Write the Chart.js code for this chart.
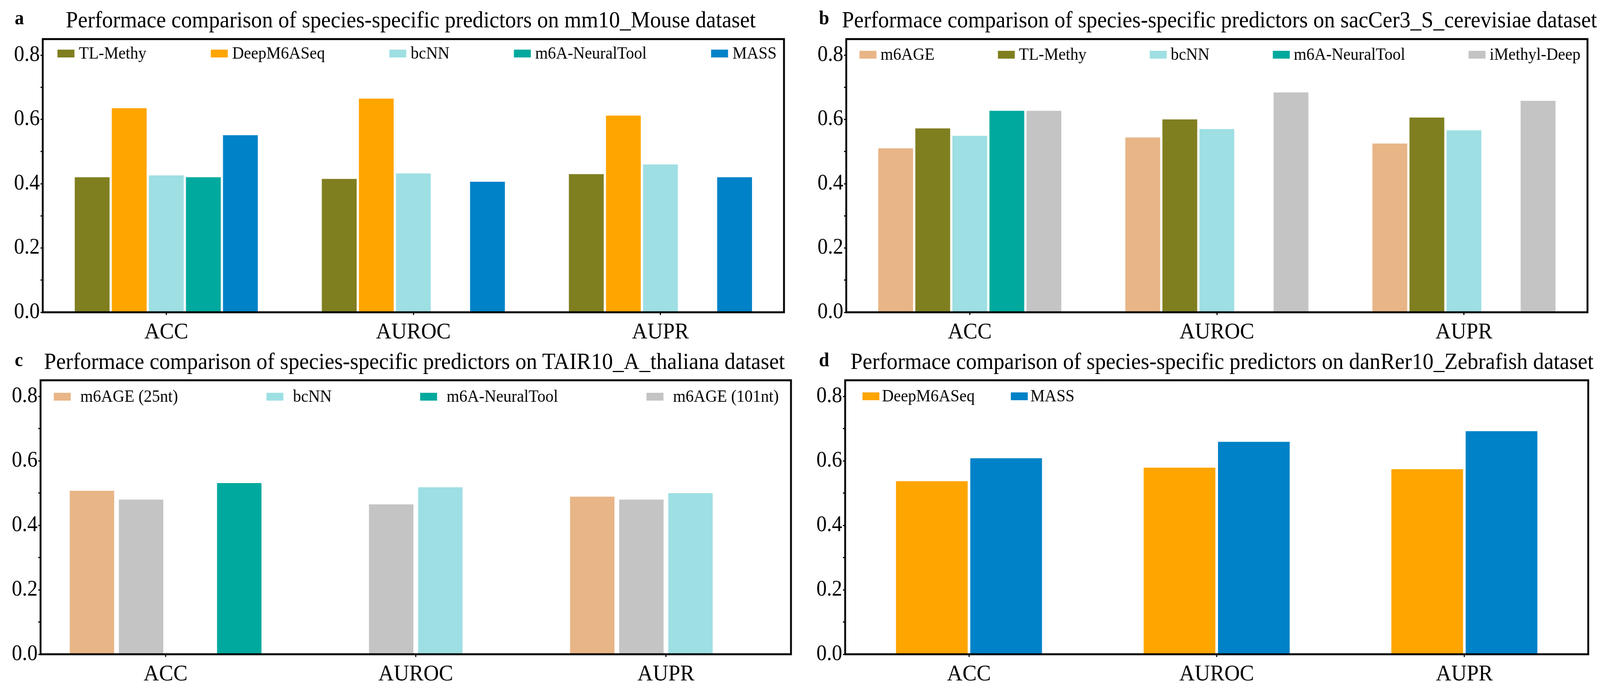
<!DOCTYPE html>
<html>
<head>
<meta charset="utf-8">
<script src="https://cdn.jsdelivr.net/npm/chart.js@4.4.0/dist/chart.umd.min.js"></script>
<style>
  html, body { margin: 0; padding: 0; background: #fff; overflow: hidden; }
  #stage { position: absolute; left: 0; top: 0; width: 4343px; height: 1768px; transform-origin: 0 0; font-family: "Liberation Serif", "Times New Roman", serif; background: #fff; }
  .panel { position: absolute; }
  .title { position: absolute; font-size: 59px; line-height: 59px; white-space: nowrap; transform: translateX(-50%); }
  .letter { position: absolute; font-size: 50px; line-height: 50px; font-weight: bold; }
</style>
</head>
<body>
<div id="stage">
<div class="letter" style="left:40px; top:20px;">a</div>
<div class="title" style="left:1115px; top:21px;">Performace comparison of species-specific predictors on mm10_Mouse dataset</div>
<div class="letter" style="left:2223px; top:20px;">b</div>
<div class="title" style="left:3310px; top:21px;">Performace comparison of species-specific predictors on sacCer3_S_cerevisiae dataset</div>
<div class="letter" style="left:40px; top:895px;">c</div>
<div class="title" style="left:1125px; top:895px;">Performace comparison of species-specific predictors on TAIR10_A_thaliana dataset</div>
<div class="letter" style="left:2223px; top:895px;">d</div>
<div class="title" style="left:3317px; top:895px;">Performace comparison of species-specific predictors on danRer10_Zebrafish dataset</div>

<div class="panel" id="pa"><canvas id="ca"></canvas></div>
<div class="panel" id="pb"><canvas id="cb"></canvas></div>
<div class="panel" id="pc"><canvas id="cc"></canvas></div>
<div class="panel" id="pd"><canvas id="cd"></canvas></div>
</div>

<script>
// the figure is laid out at 4343x1768 and squeezed into the real window
const stage = document.getElementById("stage");
stage.style.transform =
  "scale(" + window.innerWidth / 4343 + "," + window.innerHeight / 1768 + ")";

// data
const categories = ["ACC", "AUROC", "AUPR"];

// a: mm10_Mouse
const mouseTLMethy = [0.42, 0.415, 0.43];
const mouseDeepM6ASeq = [0.635, 0.665, 0.612];
const mouseBcNN = [0.426, 0.432, 0.46];
const mouseNeuralTool = [0.42, null, null];
const mouseMASS = [0.551, 0.406, 0.42];

// b: sacCer3_S_cerevisiae
const yeastM6AGE = [0.51, 0.544, 0.525];
const yeastTLMethy = [0.572, 0.6, 0.606];
const yeastBcNN = [0.549, 0.57, 0.566];
const yeastNeuralTool = [0.627, null, null];
const yeastIMethylDeep = [0.627, 0.684, 0.658];

// c: TAIR10_A_thaliana
const plantM6AGE25 = [0.507, null, 0.489];
const plantM6AGE101 = [0.48, 0.465, 0.48];
const plantBcNN = [null, 0.518, 0.5];
const plantNeuralTool = [0.531, null, null];

// d: danRer10_Zebrafish
const fishDeepM6ASeq = [0.537, 0.579, 0.574];
const fishMASS = [0.608, 0.659, 0.692];

const colors = {
  tlmethy: "#7f7f20",
  deepm6aseq: "#ffa500",
  bcnn: "#9edfe3",
  neuraltool: "#00a99d",
  mass: "#0082c8",
  m6age: "#e8b586",
  gray: "#c4c4c4",
};

const FONT = '"Liberation Serif", "Times New Roman", serif';

// black box round the plot area
const framePlugin = {
  id: "frame",
  afterDraw(chart) {
    const { ctx, chartArea: a } = chart;
    ctx.save();
    ctx.strokeStyle = "#000";
    ctx.lineWidth = 5;
    ctx.strokeRect(a.left, a.top, a.right - a.left, a.bottom - a.top);
    ctx.restore();
  },
};

// legend inside the plot area, one row
const insideLegend = {
  id: "insideLegend",
  afterDraw(chart, args, opts) {
    const { ctx, chartArea: a } = chart;
    ctx.save();
    ctx.font = opts.fontSize + "px " + FONT;
    const items = opts.order.map((i) => chart.data.datasets[i]);
    const widths = items.map(
      (ds) => opts.boxW + opts.textGap + ctx.measureText(ds.label).width
    );
    const total = widths.reduce((s, w) => s + w, 0);
    const x0 = a.left + opts.left;
    let gap = opts.gap;
    if (gap == null) gap = (a.right - opts.right - x0 - total) / (items.length - 1);
    const y = a.top + opts.top;
    let x = x0;
    items.forEach((ds, k) => {
      ctx.fillStyle = ds.backgroundColor;
      ctx.fillRect(x, y - opts.boxH / 2, opts.boxW, opts.boxH);
      ctx.fillStyle = "#000";
      ctx.textBaseline = "alphabetic";
      ctx.fillText(ds.label, x + opts.boxW + opts.textGap, y + opts.fontSize * 0.3);
      x += widths[k] + gap;
    });
    ctx.restore();
  },
};

function makePanel(panelId, canvasId, area, datasets, barOpts, legendOpts) {
  const yW = 130, xH = 110, padTop = 40, pad = 12;
  const W = area.R + pad - (area.L - yW);
  const H = area.B - area.T + padTop + xH + pad;
  const div = document.getElementById(panelId);
  div.style.left = area.L - yW + "px";
  div.style.top = area.T - padTop + "px";
  div.style.width = W + "px";
  div.style.height = H + "px";
  const canvas = document.getElementById(canvasId);
  canvas.width = W;
  canvas.height = H;

  return new Chart(canvas, {
    type: "bar",
    data: {
      labels: categories,
      datasets: datasets.map((d) => ({
        label: d.label,
        data: d.data,
        backgroundColor: d.color,
        borderWidth: 0,
        categoryPercentage: barOpts.cat,
        barPercentage: barOpts.bar,
      })),
    },
    options: {
      responsive: false,
      devicePixelRatio: 1,
      animation: false,
      layout: { padding: { left: 0, top: padTop, right: pad, bottom: pad } },
      plugins: {
        legend: { display: false },
        tooltip: { enabled: false },
        insideLegend: legendOpts,
      },
      scales: {
        x: {
          grid: {
            display: true,
            offset: false,
            drawOnChartArea: false,
            drawTicks: true,
            tickLength: 7,
            tickWidth: 3,
            tickColor: "#000",
          },
          border: { display: false },
          ticks: { color: "#000", padding: 10, font: { family: FONT, size: 58 } },
          afterFit: (s) => { s.height = xH; },
        },
        y: {
          min: 0,
          max: 0.85,
          grid: {
            display: true,
            drawOnChartArea: false,
            drawTicks: true,
            tickLength: 6,
            tickWidth: 3,
            tickColor: "#000",
          },
          border: { display: false },
          ticks: {
            stepSize: 0.1,
            includeBounds: false,
            autoSkip: false,
            color: "#000",
            padding: 2,
            font: { family: FONT, size: 56 },
            callback: (v) => (Math.round(v * 10) % 2 === 0 ? v.toFixed(1) : ""),
          },
          afterFit: (s) => { s.width = yW; },
        },
      },
    },
    plugins: [framePlugin, insideLegend],
  });
}

const legendBase = { fontSize: 44, boxW: 46, boxH: 20 };

makePanel("pa", "ca", { L: 116, T: 100, R: 2128, B: 799 }, [
  { label: "TL-Methy", data: mouseTLMethy, color: colors.tlmethy },
  { label: "DeepM6ASeq", data: mouseDeepM6ASeq, color: colors.deepm6aseq },
  { label: "bcNN", data: mouseBcNN, color: colors.bcnn },
  { label: "m6A-NeuralTool", data: mouseNeuralTool, color: colors.neuraltool },
  { label: "MASS", data: mouseMASS, color: colors.mass },
], { cat: 0.75, bar: 0.94 },
Object.assign({}, legendBase, { order: [0, 1, 2, 3, 4], left: 40, right: 20, textGap: 12, top: 37 }));

makePanel("pb", "cb", { L: 2297, T: 100, R: 4309, B: 799 }, [
  { label: "m6AGE", data: yeastM6AGE, color: colors.m6age },
  { label: "TL-Methy", data: yeastTLMethy, color: colors.tlmethy },
  { label: "bcNN", data: yeastBcNN, color: colors.bcnn },
  { label: "m6A-NeuralTool", data: yeastNeuralTool, color: colors.neuraltool },
  { label: "iMethyl-Deep", data: yeastIMethylDeep, color: colors.gray },
], { cat: 0.75, bar: 0.94 },
Object.assign({}, legendBase, { order: [0, 1, 2, 3, 4], left: 36, right: 19, textGap: 11, top: 40 }));

makePanel("pc", "cc", { L: 110, T: 973, R: 2147, B: 1674 }, [
  { label: "m6AGE (25nt)", data: plantM6AGE25, color: colors.m6age },
  { label: "m6AGE (101nt)", data: plantM6AGE101, color: colors.gray },
  { label: "bcNN", data: plantBcNN, color: colors.bcnn },
  { label: "m6A-NeuralTool", data: plantNeuralTool, color: colors.neuraltool },
], { cat: 0.785, bar: 0.905 },
Object.assign({}, legendBase, { order: [0, 2, 3, 1], left: 36, right: 33, textGap: 26, top: 42 }));

makePanel("pd", "cd", { L: 2294, T: 973, R: 4311, B: 1674 }, [
  { label: "DeepM6ASeq", data: fishDeepM6ASeq, color: colors.deepm6aseq },
  { label: "MASS", data: fishMASS, color: colors.mass },
], { cat: 0.6, bar: 0.965 },
Object.assign({}, legendBase, { order: [0, 1], left: 47, gap: 98, textGap: 7, top: 41 }));
</script>
</body>
</html>
